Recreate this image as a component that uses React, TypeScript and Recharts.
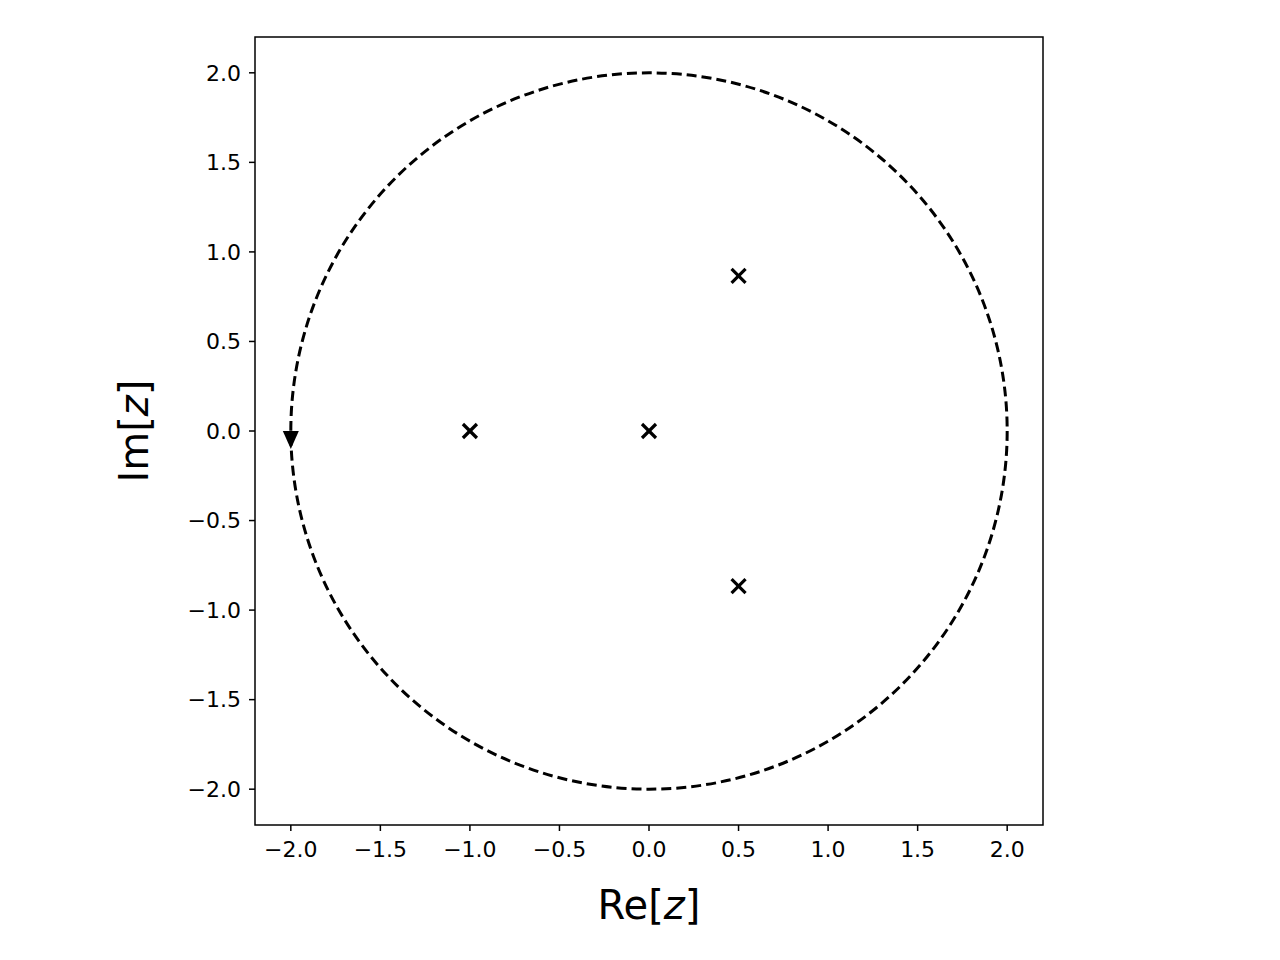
import { ScatterChart, Scatter, XAxis, YAxis, ReferenceDot, usePlotArea } from 'recharts';

const ticks = [-2.0, -1.5, -1.0, -0.5, 0.0, 0.5, 1.0, 1.5, 2.0];
const domain: [number, number] = [-2.2, 2.2];
const contourRadius = 2;
const contourArrow = { x: -2, y: -0.05 };

const poles = [
  { x: -1, y: 0 },
  { x: 0, y: 0 },
  { x: 0.5, y: 0.866 },
  { x: 0.5, y: -0.866 },
];

const fmt = (v: number) => (v < 0 ? '\u2212' + Math.abs(v).toFixed(1) : v.toFixed(1));
const tickStyle = { fontSize: 22, fontFamily: 'DejaVu Sans', fill: '#000' };
const labelStyle = { fontSize: 40, fontFamily: 'DejaVu Sans', fill: '#000' };

const Cross = (props: any) => {
  const { cx, cy } = props;
  const s = 7;
  return (
    <g stroke="#000" strokeWidth={3.2}>
      <line x1={cx - s} y1={cy - s} x2={cx + s} y2={cy + s} />
      <line x1={cx - s} y1={cy + s} x2={cx + s} y2={cy - s} />
    </g>
  );
};

const Triangle = (props: any) => {
  const { cx, cy } = props;
  return <path d={`M${cx - 8},${cy - 9} L${cx + 8},${cy - 9} L${cx},${cy + 9} Z`} fill="#000" />;
};

// dashed contour |z| = 2, plus the frame, scaled from the plot area
const Contour = () => {
  const area = usePlotArea();
  if (!area) return null;
  const span = domain[1] - domain[0];
  const rx = (area.width * contourRadius) / span;
  const ry = (area.height * contourRadius) / span;
  const cx = area.x + area.width * (-domain[0] / span);
  const cy = area.y + area.height * (domain[1] / span);
  return (
    <g>
      <ellipse cx={cx} cy={cy} rx={rx} ry={ry} fill="none" stroke="#000" strokeWidth={3} strokeDasharray="10 5" />
      <rect x={area.x} y={area.y} width={area.width} height={area.height} fill="none" stroke="#000" strokeWidth={1.5} />
    </g>
  );
};

const XLabel = (props: any) => {
  const { viewBox } = props;
  return (
    <text x={viewBox.x + viewBox.width / 2} y={viewBox.y + 94} textAnchor="middle" style={labelStyle}>
      Re[<tspan fontStyle="italic">z</tspan>]
    </text>
  );
};

const YLabel = (props: any) => {
  const { viewBox } = props;
  const x = 148;
  const y = viewBox.y + viewBox.height / 2;
  return (
    <text x={x} y={y} textAnchor="middle" transform={`rotate(-90 ${x} ${y})`} style={labelStyle}>
      Im[<tspan fontStyle="italic">z</tspan>]
    </text>
  );
};

export default function App() {
  return (
    <div style={{ position: 'absolute', left: 0, top: 0, width: 1280, height: 960, background: '#fff' }}>
      <ScatterChart width={1280} height={960} margin={{ top: 37, right: 237, bottom: 35, left: 145 }}>
        <XAxis
          type="number"
          dataKey="x"
          domain={domain}
          ticks={ticks}
          tickFormatter={fmt}
          allowDataOverflow
          axisLine={false}
          tickLine={{ stroke: '#000', strokeWidth: 1.5 }}
          tickSize={6}
          tickMargin={10}
          tick={tickStyle}
          height={100}
          label={<XLabel />}
        />
        <YAxis
          type="number"
          dataKey="y"
          domain={domain}
          ticks={ticks}
          tickFormatter={fmt}
          allowDataOverflow
          axisLine={false}
          tickLine={{ stroke: '#000', strokeWidth: 1.5 }}
          tickSize={6}
          tickMargin={8}
          tick={tickStyle}
          width={110}
          label={<YLabel />}
        />
        <Contour />
        <ReferenceDot x={contourArrow.x} y={contourArrow.y} r={0} shape={Triangle} />
        <Scatter data={poles} shape={Cross} isAnimationActive={false} />
      </ScatterChart>
    </div>
  );
}
